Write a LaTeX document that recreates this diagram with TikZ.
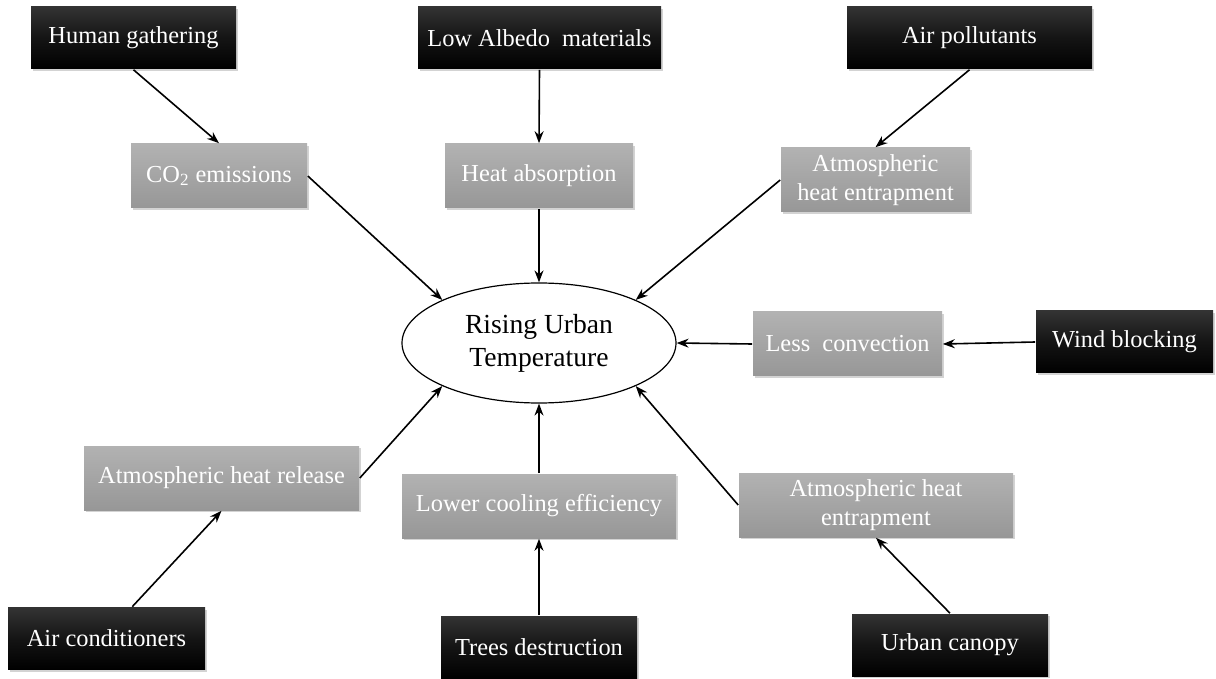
\documentclass[tikz,border=0pt]{standalone}
\usepackage{fontspec}
\setmainfont{Liberation Serif}
\usetikzlibrary{shapes.geometric,shadows,arrows.meta}

\definecolor{boxgraytop}{HTML}{B2B2B2}
\definecolor{boxgraybot}{HTML}{979797}
\definecolor{boxblacktop}{HTML}{333333}

\begin{document}
\begin{tikzpicture}
                [
                    x=0.5pt,
                    y=-0.5pt,
                    ->,
                    >={Stealth[length=6pt,width=4.5pt]},
                    thick,
                    box/.style={shape=rectangle, inner sep=0pt, align=center,
                                text=white, font=\fontsize{12.2}{14.5}\selectfont,
                                drop shadow={shadow xshift=0.8pt, shadow yshift=-1.2pt, opacity=0.35}},
                    source/.style={box, top color=boxblacktop, bottom color=black,
                                   middle color=black!92, minimum height=31pt},
                    effect/.style={box, top color=boxgraytop, bottom color=boxgraybot,
                                   minimum height=32pt},
                    outcome/.style={shape=ellipse, draw, semithick, fill=white, inner sep=0pt,
                                    minimum width=137pt, minimum height=60pt, align=center,
                                    font=\fontsize{13.8}{16.5}\selectfont}
                ]
                \useasboundingbox (0,0) rectangle (1216,679);

                % centre
                \node (urban) [outcome] at (539,343) {Rising Urban\\Temperature};

                % root causes
                \node (hum)    [source, minimum width=102.5pt] at (133.5,38)  {Human gathering};
                \node (albedo) [source, minimum width=121.5pt] at (539.5,38)  {Low Albedo\ \ materials};
                \node (pollut) [source, minimum width=122.5pt] at (969.5,38)  {Air pollutants};
                \node (wind)   [source, minimum width=88.5pt]  at (1124.5,342) {Wind blocking};
                \node (aircon) [source, minimum width=98.5pt]  at (106.5,638.5) {Air conditioners};
                \node (trees)  [source, minimum width=98pt]    at (539,647)   {Trees destruction};
                \node (canopy) [source, minimum width=98pt]    at (950,645)   {Urban canopy};

                % effects
                \node (co2)     [effect, minimum width=88pt]    at (219,176)   {CO\textsubscript{2} emissions};
                \node (absorb)  [effect, minimum width=94pt]    at (539,176)   {Heat absorption};
                \node (entrapA) [effect, minimum width=94.5pt]  at (875.5,180) {Atmospheric\\heat entrapment};
                \node (convec)  [effect, minimum width=94.5pt]  at (847.5,344) {Less\ \ convection};
                \node (release) [effect, minimum width=137.5pt] at (221.5,478) {Atmospheric heat release};
                \node (cooling) [effect, minimum width=137pt]   at (539,506)   {Lower cooling efficiency};
                \node (entrapB) [effect, minimum width=137pt]   at (876,505)   {Atmospheric heat\\entrapment};

                \path
                (hum.south)    edge (co2.north)
                (albedo.south) edge (absorb.north)
                (pollut.south) edge (entrapA.north)
                (wind.west)    edge (convec.east)
                (aircon.51)    edge (release.south)
                (trees.north)  edge (cooling.south)
                (canopy.north) edge (entrapB.south)
                ;

                \path
                (co2.east)     edge (urban.156)
                (absorb.south) edge (urban.north)
                (entrapA.west) edge (urban.24)
                (convec.west)  edge (urban.east)
                (release.east) edge (urban.204)
                (cooling.north) edge (urban.south)
                (entrapB.west) edge (urban.336)
                ;

\end{tikzpicture}
\end{document}
